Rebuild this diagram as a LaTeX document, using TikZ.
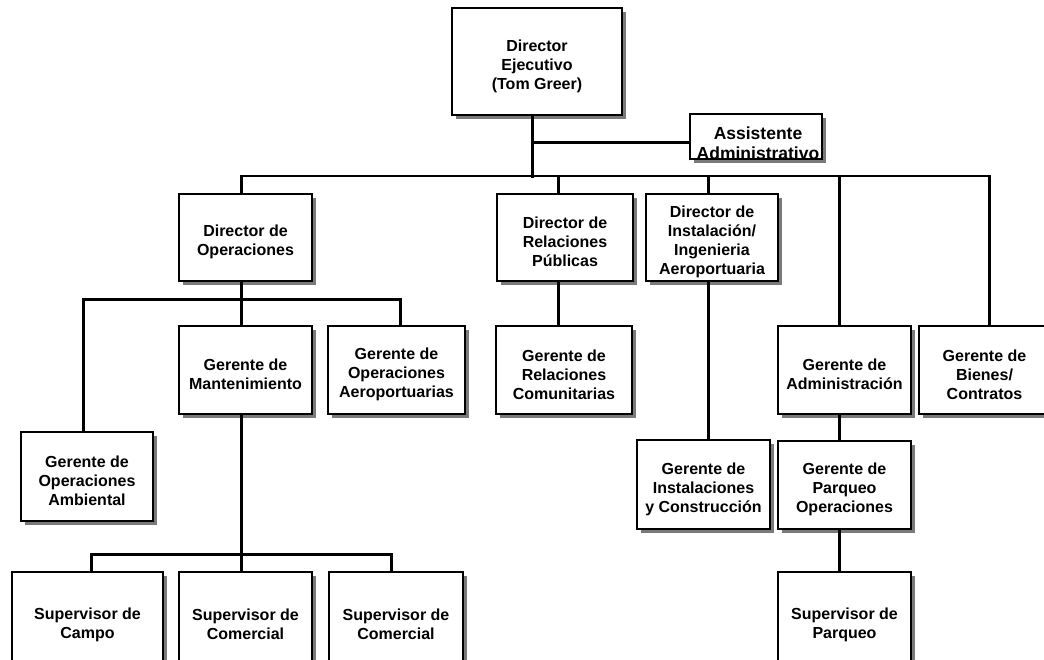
\documentclass[tikz,border=0pt]{standalone}
\usepackage{fontspec}
\setmainfont{Liberation Sans}
\usetikzlibrary{shadows}
\newcommand\orgb[6]{%
  \node[orgbox, minimum width=#4pt, minimum height=#5pt] (#1) at (#2,#3) {};
  \node[orgtext] (#1-t) at ([yshift=-4.5pt]#1.center) {#6};}
\begin{document}
\begin{tikzpicture}[x=1pt,y=-1pt,
  orgbox/.style={draw, line width=2.4pt, fill=white, inner sep=0pt,
    drop shadow={shadow xshift=3.5pt, shadow yshift=-3.5pt, fill=black!52, opacity=1}},
  orgtext/.style={align=center, inner sep=0pt, font=\bfseries\fontsize{16}{19}\selectfont},
  conn/.style={line width=3pt, line cap=rect},
  busline/.style={line width=2.5pt, line cap=rect}]
\useasboundingbox (0,0) rectangle (1044,659);
\clip (0,0) rectangle (1044,659);

% boxes
\orgb{de}{537}{61.5}{170}{107}{Director\\Ejecutivo\\(Tom Greer)}
\node[orgbox, minimum width=132pt, minimum height=45pt] (asst) at (756,136.5) {};
\node[orgtext, font=\bfseries\fontsize{17.5}{20}\selectfont] (asst-t) at (758,143) {Assistente\\Administrativo};

\orgb{dops}{245.5}{237.5}{133}{87}{Director de\\Operaciones}
\orgb{drp}{565}{237.5}{136}{87}{Director de\\Relaciones\\Públicas}
\orgb{dinst}{712}{237.5}{132}{87}{Director de\\Instalación/\\Ingenieria\\Aeroportuaria}

\orgb{mant}{245.5}{370}{133}{88}{Gerente de\\Mantenimiento}
\orgb{aero}{396.5}{370}{137}{88}{Gerente de\\Operaciones\\Aeroportuarias}
\orgb{rc}{564}{370}{136}{88}{Gerente de\\Relaciones\\Comunitarias}
\orgb{admin}{844.5}{370}{133}{88}{Gerente de\\Administración}
\orgb{bienes}{984.5}{370}{131}{88}{Gerente de\\Bienes/\\Contratos}

\orgb{amb}{87}{476.5}{132}{89}{Gerente de\\Operaciones\\Ambiental}
\orgb{ginst}{703.5}{484.5}{133}{89}{Gerente de\\Instalaciones\\y Construcción}
\orgb{parq}{844.5}{485}{133}{88}{Gerente de\\Parqueo\\Operaciones}

\orgb{supcampo}{87.5}{620}{151}{96}{Supervisor de\\Campo}
\orgb{supcom1}{245.5}{620}{133}{96}{Supervisor de\\Comercial}
\orgb{supcom2}{396}{620}{134}{96}{Supervisor de\\Comercial}
\orgb{supparq}{844.5}{620}{133}{96}{Supervisor de\\Parqueo}

% bus coordinates
\coordinate (trunk) at (532,176);
\coordinate (atap) at (532,142);
\coordinate (bL) at (241,176);
\coordinate (bRP) at (558,176);
\coordinate (bIN) at (708,176);
\coordinate (bAD) at (839,176);
\coordinate (bR) at (989,176);

\coordinate (oL) at (83,299);
\coordinate (oM) at (241,299);
\coordinate (oR) at (400,299);

\coordinate (sL) at (91,554);
\coordinate (sM) at (241,554);
\coordinate (sR) at (391,554);

% connectors
\draw[conn] (de.south -| trunk) -- (trunk);
\draw[conn] (atap) -- (atap -| asst.west);
\draw[busline] (bL) -- (bR);
\draw[conn] (bL) -- (bL |- dops.north);
\draw[conn] (bRP) -- (bRP |- drp.north);
\draw[conn] (bIN) -- (bIN |- dinst.north);
\draw[conn] (bAD) -- (bAD |- admin.north);
\draw[conn] (bR) -- (bR |- bienes.north);

\draw[conn] (dops.south -| oM) -- (oM);
\draw[conn] (oL) -- (oR);
\draw[conn] (oL) -- (oL |- amb.north);
\draw[conn] (oM) -- (oM |- mant.north);
\draw[conn] (oR) -- (oR |- aero.north);

\draw[conn] (drp.south -| bRP) -- (bRP |- rc.north);
\draw[conn] (dinst.south -| bIN) -- (bIN |- ginst.north);
\draw[conn] (admin.south -| bAD) -- (bAD |- parq.north);
\draw[conn] (parq.south -| bAD) -- (bAD |- supparq.north);

\draw[conn] (mant.south -| sM) -- (sM);
\draw[conn] (sL) -- (sR);
\draw[conn] (sL) -- (sL |- supcampo.north);
\draw[conn] (sM) -- (sM |- supcom1.north);
\draw[conn] (sR) -- (sR |- supcom2.north);
\end{tikzpicture}
\end{document}
